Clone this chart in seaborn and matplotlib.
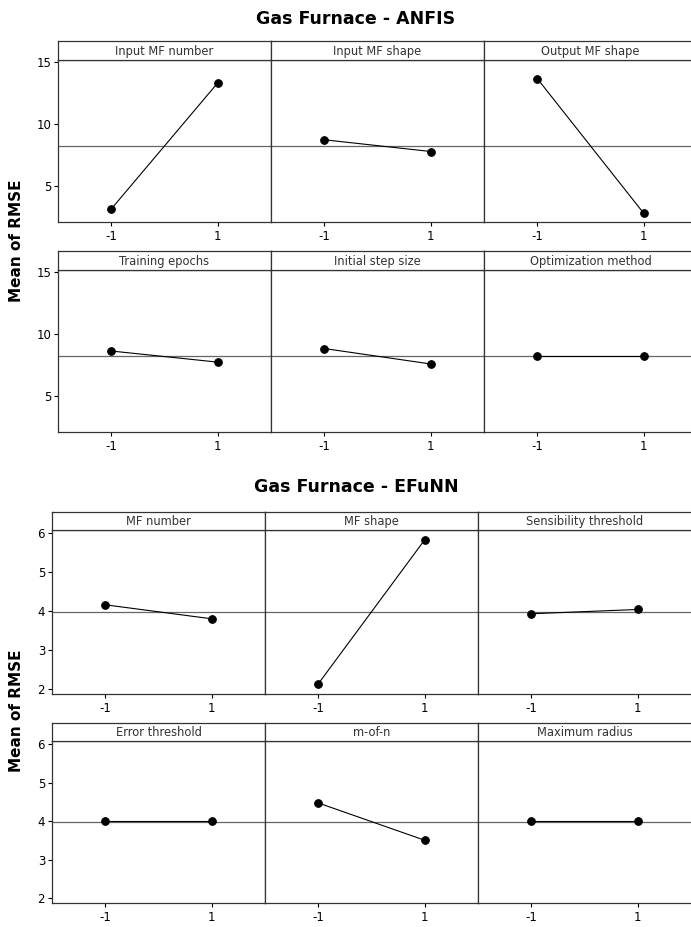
import matplotlib
matplotlib.use("Agg")
import matplotlib.pyplot as plt
import seaborn as sns
import pandas as pd

sns.set_style("white")
plt.rcParams['font.family'] = ['DejaVu Sans']
plt.rcParams['text.color'] = 'black'
plt.rcParams['xtick.color'] = 'black'
plt.rcParams['ytick.color'] = 'black'

levels = [-1, 1]

# ANFIS main effects
anfis_factors = ["Input MF number", "Input MF shape", "Output MF shape",
                 "Training epochs", "Initial step size", "Optimization method"]
anfis_low = [3.15, 8.75, 13.7, 8.65, 8.85, 8.23]
anfis_high = [13.35, 7.8, 2.8, 7.75, 7.6, 8.23]
anfis_mean = 8.23

# EFuNN main effects
efunn_factors = ["MF number", "MF shape", "Sensibility threshold",
                 "Error threshold", "m-of-n", "Maximum radius"]
efunn_low = [4.16, 2.13, 3.93, 4.0, 4.47, 4.0]
efunn_high = [3.8, 5.83, 4.04, 4.0, 3.5, 4.0]
efunn_mean = 3.97

W, H = 691, 927
fig = plt.figure(figsize=(W / 100, H / 100), dpi=100)


def make_df(factors, low, high):
    rows = []
    for f, a, b in zip(factors, low, high):
        rows.append({"factor": f, "level": levels[0], "rmse": a})
        rows.append({"factor": f, "level": levels[1], "rmse": b})
    return pd.DataFrame(rows)


def px_axes(x0, y0, x1, y1):
    return fig.add_axes([x0 / W, 1 - y1 / H, (x1 - x0) / W, (y1 - y0) / H])


def draw_chart(df, factors, mean, left, rows, ylim, yticks, title, title_y):
    pw = 213
    for i, f in enumerate(factors):
        r, c = divmod(i, 3)
        strip_top, data_top, data_bot = rows[r]
        x0 = left + c * pw
        # right column runs off the edge of the picture, as in the original
        x1 = x0 + pw + (10 if c == 2 else 0)
        frac = pw / (x1 - x0)
        ax = px_axes(x0, data_top, x1, data_bot)
        sub = df[df["factor"] == f]
        ax.axhline(mean, color="#666666", lw=0.9, zorder=1)
        sns.lineplot(data=sub, x="level", y="rmse", ax=ax, color="black",
                     lw=0.8, marker="o", markersize=5.5, markeredgecolor="black",
                     zorder=3)
        ax.set_xlim(-2, -2 + 4 / frac)
        ax.set_ylim(*ylim)
        ax.set_xticks(levels)
        ax.set_xticklabels(["-1", "1"], fontsize=8.5)
        ax.set_xlabel("")
        ax.set_ylabel("")
        ax.tick_params(axis="x", bottom=True, length=3, width=0.8, pad=3)
        if c == 0:
            ax.set_yticks(yticks)
            ax.set_yticklabels([str(t) for t in yticks], fontsize=8.5)
            ax.tick_params(axis="y", left=True, length=3, width=0.8, pad=2)
        else:
            ax.set_yticks([])
        for s in ax.spines.values():
            s.set_color("#333333")
            s.set_linewidth(0.9)
        # strip with factor name
        sx = px_axes(x0, strip_top, x1, data_top)
        sx.set_xticks([])
        sx.set_yticks([])
        for s in sx.spines.values():
            s.set_color("#333333")
            s.set_linewidth(0.9)
        sx.text(0.5 * frac, 0.45, f, ha="center", va="center", fontsize=8.3,
                color="#333333", transform=sx.transAxes)
    fig.text(356 / W, 1 - title_y / H, title, ha="center",
             va="center", fontsize=12.5, fontweight="bold")


anfis_df = make_df(anfis_factors, anfis_low, anfis_high)
efunn_df = make_df(efunn_factors, efunn_low, efunn_high)

draw_chart(anfis_df, anfis_factors, anfis_mean, 58,
           [(41, 60, 222), (251, 270, 432)], (2.1, 15.2), [5, 10, 15],
           "Gas Furnace - ANFIS", 19)
draw_chart(efunn_df, efunn_factors, efunn_mean, 52,
           [(512, 530, 694), (723, 741, 903)], (1.87, 6.08), [2, 3, 4, 5, 6],
           "Gas Furnace - EFuNN", 487)

fig.text(17 / W, 1 - 241 / H, "Mean of RMSE", rotation=90, ha="center",
         va="center", fontsize=11, fontweight="bold")
fig.text(17 / W, 1 - 711 / H, "Mean of RMSE", rotation=90, ha="center",
         va="center", fontsize=11, fontweight="bold")

fig.savefig("out.png", dpi=100)
